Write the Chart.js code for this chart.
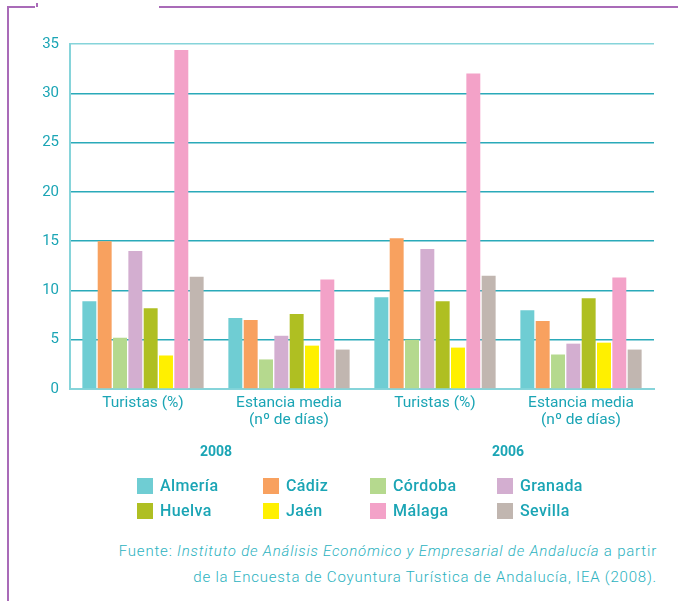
<!DOCTYPE html>
<html>
<head>
<meta charset="utf-8">
<script src="https://cdn.jsdelivr.net/npm/chart.js@4"></script>
<style>
  html, body { margin: 0; padding: 0; background: #fff; }
  body { width: 678px; height: 601px; position: relative; overflow: hidden; font-family: Roboto, sans-serif; }
  #wrap { position: absolute; left: 0; top: 0; width: 678px; height: 480px; }
  .frame { position: absolute; background: #a96bb8; }
  #legend { position: absolute; left: 0; top: 0; width: 678px; }
  .item { position: absolute; display: flex; align-items: center; color: #1ba5b5; font-size: 16px; font-weight: 500; letter-spacing: 0.4px; white-space: nowrap; }
  .box { width: 16px; height: 16px; margin-right: 7px; }
  .src { position: absolute; right: 21px; color: #2cb2c0; font-size: 15px; font-weight: 300; letter-spacing: 0.8px; white-space: nowrap; text-align: right; }
</style>
</head>
<body>
<div class="frame" style="left:7px;top:6px;width:2px;height:595px"></div>
<div class="frame" style="left:7px;top:6px;width:28px;height:2px"></div>
<div class="frame" style="left:36px;top:3px;width:2px;height:4px"></div>
<div class="frame" style="left:159px;top:6px;width:519px;height:2px"></div>
<div id="wrap"><canvas id="chart" width="678" height="480"></canvas></div>
<div id="legend"></div>
<div class="src" style="top:542px">Fuente: <i>Instituto de Análisis Económico y Empresarial de Andalucía</i> a partir</div>
<div class="src" style="top:568px">de la Encuesta de Coyuntura Turística de Andalucía, IEA (2008).</div>
<script>
const categories = [['Turistas (%)'], ['Estancia media', '(nº de días)'], ['Turistas (%)'], ['Estancia media', '(nº de días)']];
const years = ['2008', '2006'];
const provinces = ['Almería', 'Cádiz', 'Córdoba', 'Granada', 'Huelva', 'Jaén', 'Málaga', 'Sevilla'];
const colors = ['#6fcdd3', '#f8a15f', '#b5d98e', '#d3aed0', '#afbf22', '#fff000', '#f3a2c8', '#c1b6b0'];

const almeria = [8.9, 7.2, 9.3, 8.0];
const cadiz = [15.0, 7.0, 15.3, 6.9];
const cordoba = [5.2, 3.0, 5.0, 3.5];
const granada = [14.0, 5.4, 14.2, 4.6];
const huelva = [8.2, 7.6, 8.9, 9.2];
const jaen = [3.4, 4.4, 4.2, 4.7];
const malaga = [34.4, 11.1, 32.0, 11.3];
const sevilla = [11.4, 4.0, 11.5, 4.0];
const series = [almeria, cadiz, cordoba, granada, huelva, jaen, malaga, sevilla];

const teal = '#1ba5b5';
const darkGrid = '#2aaab9';
const lightGrid = '#86d4da';

Chart.defaults.font.family = 'Roboto, sans-serif';

new Chart(document.getElementById('chart'), {
  type: 'bar',
  data: {
    labels: categories,
    datasets: series.map((vals, i) => ({
      label: provinces[i],
      data: vals,
      backgroundColor: colors[i],
      borderWidth: 0,
      xAxisID: 'x',
      barPercentage: 0.91,
      categoryPercentage: 0.84,
    })),
  },
  options: {
    responsive: false,
    animation: false,
    layout: { padding: { left: 0, top: 44, right: 24, bottom: 16 } },
    plugins: { legend: { display: false }, tooltip: { enabled: false } },
    scales: {
      y: {
        min: 0,
        max: 35,
        ticks: { stepSize: 5, color: teal, font: { size: 15 }, padding: 11 },
        grid: {
          drawTicks: false,
          lineWidth: 1.5,
          color: (ctx) => (ctx.tick && ctx.tick.value === 35 ? lightGrid : darkGrid),
        },
        border: { color: lightGrid, width: 2 },
        afterFit: (s) => { s.width = 70; },
      },
      x: {
        position: 'bottom',
        grid: { display: false, drawTicks: false },
        border: { color: lightGrid, width: 2 },
        ticks: { color: teal, font: { size: 15.5, lineHeight: 1.1 }, padding: 6, maxRotation: 0 },
        afterFit: (s) => { s.height = 45; },
      },
      x2: {
        type: 'category',
        position: 'bottom',
        labels: years,
        offset: true,
        grid: { display: false, drawTicks: false },
        border: { display: false },
        ticks: { color: teal, font: { size: 14, weight: 'bold' }, padding: 10 },
        afterFit: (s) => { s.height = 30; },
      },
    },
  },
});

// legend built from the same arrays
const legend = document.getElementById('legend');
const colX = [137, 263, 370, 497];
const rowY = [476, 501];
provinces.forEach((name, i) => {
  const el = document.createElement('div');
  el.className = 'item';
  el.style.left = colX[i % 4] + 'px';
  el.style.top = rowY[Math.floor(i / 4)] + 'px';
  el.innerHTML = '<span class="box" style="background:' + colors[i] + '"></span>' + name;
  legend.appendChild(el);
});
</script>
</body>
</html>
